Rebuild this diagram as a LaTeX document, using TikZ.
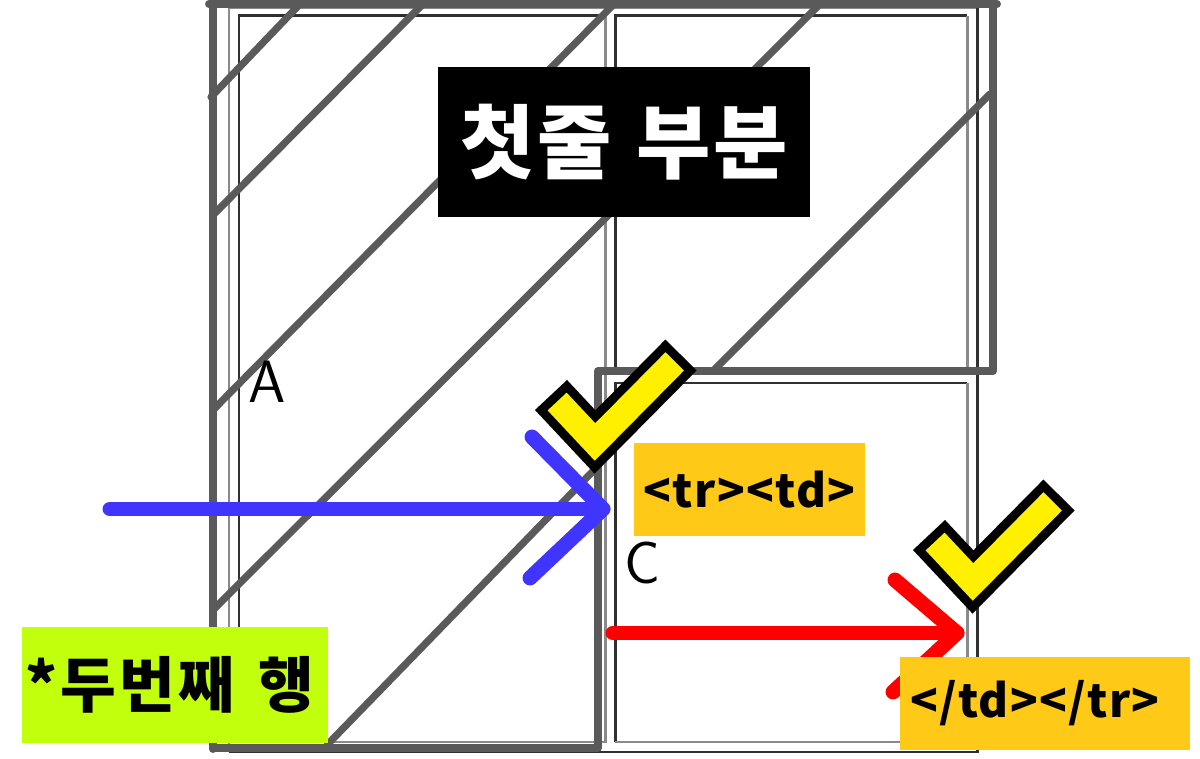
\documentclass[tikz,border=0pt]{standalone}
\usepackage{fontspec}
\newfontfamily\kr{Noto Sans CJK KR}[LetterSpace=3]
\newfontfamily\krtag{Noto Sans CJK KR}[LetterSpace=3]
\newfontfamily\krrow{Noto Sans CJK KR}[LetterSpace=5]
\definecolor{frame}{HTML}{5A5A5A}
\definecolor{lightln}{HTML}{8A8A8A}
\definecolor{darkln}{HTML}{303030}
\definecolor{tagorange}{HTML}{FFC918}
\definecolor{rowgreen}{HTML}{C2FF0C}
\definecolor{checkyellow}{HTML}{FFF000}
\definecolor{arrowblue}{HTML}{4035FF}
\definecolor{arrowred}{HTML}{FF0000}
\tikzset{
  frameline/.style={draw=frame, line width=4.5pt, line cap=round, line join=round},
  hatchline/.style={draw=frame, line width=4.1pt, line cap=round},
  litborder/.style={draw=lightln, line width=1.7pt},
  drkborder/.style={draw=darkln, line width=1.7pt},
  tagbox/.style={fill=tagorange, inner sep=0pt, minimum height=1.86cm, font=\krtag\bfseries\fontsize{26}{30}\selectfont},
  cellletter/.style={font=\sffamily\fontsize{34}{36}\selectfont, inner sep=0pt},
  arrowstroke/.style={line width=8.5pt, line cap=round, line join=round},
  checkmark/.pic={
    \draw[line width=25pt, black, line cap=butt, line join=miter] (-44,-78) -- (0,-31) -- (86,-118);
    \draw[line width=14.8pt, checkyellow, line cap=butt, line join=miter, shorten <=5.1pt, shorten >=5.1pt] (-44,-78) -- (0,-31) -- (86,-118);
  }
}
\begin{document}
\begin{tikzpicture}[x=0.02cm, y=-0.02cm]
\useasboundingbox (0,0) rectangle (1200,759);
% table outer border (outset)
\draw[litborder] (229,752) -- (229,8) -- (977,8);
\draw[drkborder] (977,8) -- (977,752) -- (229,752);
% cell A
\draw[drkborder] (239,742) -- (239,16) -- (605,16);
\draw[litborder] (605,16) -- (605,742) -- (239,742);
% cell B
\draw[drkborder] (615,369) -- (615,16) -- (967,16);
\draw[litborder] (967,16) -- (967,369) -- (615,369);
% cell C
\draw[drkborder] (615,742) -- (615,383) -- (967,383);
\draw[litborder] (967,383) -- (967,742) -- (615,742);
% hatch lines
\draw[hatchline] (211,97) -- (300,4);
\draw[hatchline] (213,215) -- (422,5);
\draw[hatchline] (213,410) -- (614,4);
\draw[hatchline] (213,610) -- (820,4);
\draw[hatchline] (327,745) -- (597,467);
\draw[hatchline] (713,371) -- (990,94);
% thick frame
\draw[frameline] (209,4) -- (997,4);
\draw[frameline] (213,4) -- (213,749);
\draw[frameline] (993,4) -- (993,371) -- (598,371) -- (598,748) -- (213,748);
% cell letters
\node[cellletter] (A) at (267,382) {A};
\node[cellletter] (C) at (642,563) {C};
% title box
\node[fill=black, text=white, inner sep=0pt, minimum width=7.44cm, minimum height=3cm,
      font=\kr\bfseries\fontsize{46}{50}\selectfont] (title) at (624,142) {첫줄\hspace{0.5cm}부분};
% second row label
\node[fill=rowgreen, inner sep=0pt, minimum width=6.12cm, minimum height=2.32cm,
      font=\krrow\bfseries\fontsize{34.5}{38}\selectfont] (row2) at (175,685) {\hspace*{-0.2cm}*두번째\hspace{0.5cm}행};
% arrows
\coordinate (bs) at (110,509);
\coordinate (be) at (603,509);
\draw[arrowstroke, arrowblue] (bs) -- (be);
\draw[arrowstroke, arrowblue] ([shift={(-71,-72)}]be) -- (be) -- ([shift={(-73,69)}]be);
\coordinate (rs) at (613,633);
\coordinate (re) at (957,633);
\draw[arrowstroke, arrowred] (rs) -- (re);
\draw[arrowstroke, arrowred] ([shift={(-62,-53)}]re) -- (re) -- ([shift={(-64,59)}]re);
% tag boxes
\node[tagbox, minimum width=4.62cm] (open) at (749.5,489.5) {<tr><td>};
\node[tagbox, minimum width=5.8cm] (close) at (1045,703.5) {\hspace*{-0.4cm}</td></tr>};
% check marks
\pic at (595,473) {checkmark};
\pic at (973,613) {checkmark};
\end{tikzpicture}
\end{document}
